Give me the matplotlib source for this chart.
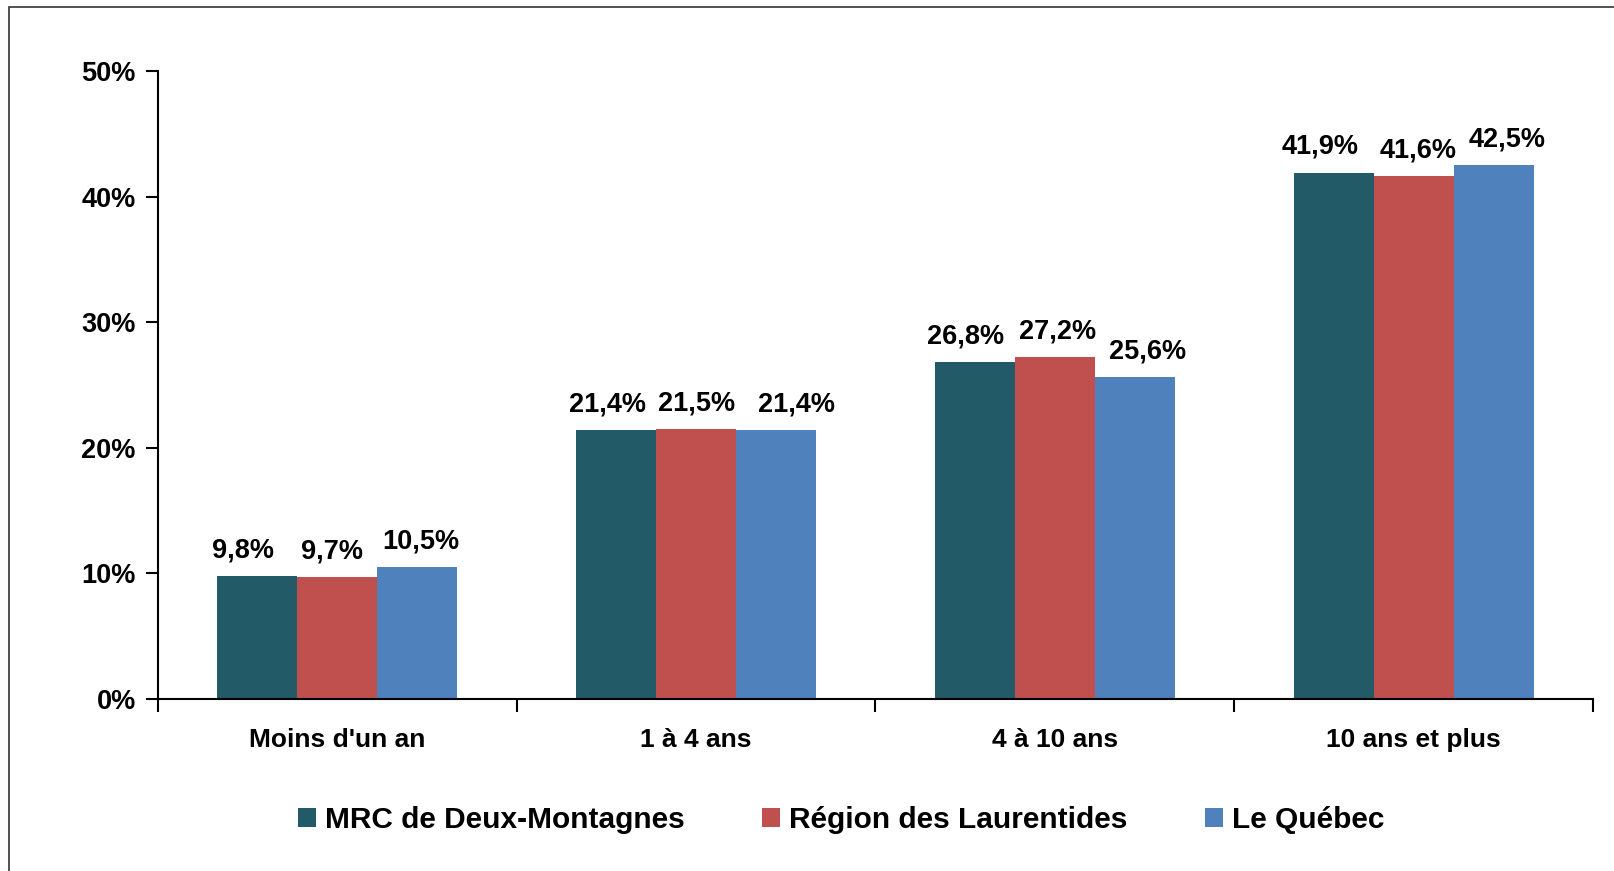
import numpy as np
import matplotlib.pyplot as plt
from matplotlib.patches import Rectangle
from matplotlib.ticker import FuncFormatter

plt.rcParams['font.family'] = ['Liberation Sans', 'DejaVu Sans']
plt.rcParams['font.weight'] = 'bold'

categories = ["Moins d'un an", "1 à 4 ans", "4 à 10 ans", "10 ans et plus"]
series = ["MRC de Deux-Montagnes", "Région des Laurentides", "Le Québec"]
mrc = [9.8, 21.4, 26.8, 41.9]
region = [9.7, 21.5, 27.2, 41.6]
quebec = [10.5, 21.4, 25.6, 42.5]
colors = ['#225A68', '#C0504D', '#4F81BD']

fig = plt.figure(figsize=(16.15, 8.71), dpi=100)
ax = fig.add_axes([0.0978, 0.1975, 0.8886, 0.721])

# cadre autour du graphique
fig.patches.append(Rectangle((9 / 1615, -0.1), 2, 1.1 - 7 / 871, transform=fig.transFigure,
                             fill=False, edgecolor='#333333', linewidth=1.2))

x = np.arange(len(categories))
w = 0.223
# décalage horizontal des étiquettes (points), comme dans Excel
label_dx = [[-10, -6, -7, -9.5],
            [-3.5, 0.5, 2, 3.5],
            [2.5, 15, 9, 9.5]]
for i, (vals, name) in enumerate(zip([mrc, region, quebec], series)):
    pos = x + (i - 1) * w
    ax.bar(pos, vals, w, color=colors[i], label=name)
    for j, (xp, v) in enumerate(zip(pos, vals)):
        ax.annotate(f"{v:.1f}%".replace('.', ','), (xp, v), xytext=(label_dx[i][j], 13.5),
                    textcoords='offset points', ha='center', va='baseline',
                    fontsize=19.5, fontweight='bold')

ax.set_xlim(-0.5, 3.5)
ax.set_ylim(0, 50)
ax.set_yticks(range(0, 51, 10))
ax.yaxis.set_major_formatter(FuncFormatter(lambda v, p: f"{v:.0f}%"))
ax.set_xticks(x)
ax.set_xticklabels(categories)
ax.set_xticks(np.arange(-0.5, 4, 1), minor=True)
ax.tick_params(axis='x', which='major', length=0, pad=21, labelsize=19)
ax.tick_params(axis='x', which='minor', length=9, width=1.5, direction='out')
ax.tick_params(axis='y', length=9, width=1.5, direction='out', pad=7, labelsize=19.5)
for s in ['top', 'right']:
    ax.spines[s].set_visible(False)
for s in ['left', 'bottom']:
    ax.spines[s].set_linewidth(1.5)

fig.legend(loc='center', bbox_to_anchor=(0.521, 0.0585), ncol=3, frameon=False,
           fontsize=21.5, handlelength=0.6, handleheight=0.6, handletextpad=0.3,
           columnspacing=2.6)

fig.savefig('out.png', dpi=100)
